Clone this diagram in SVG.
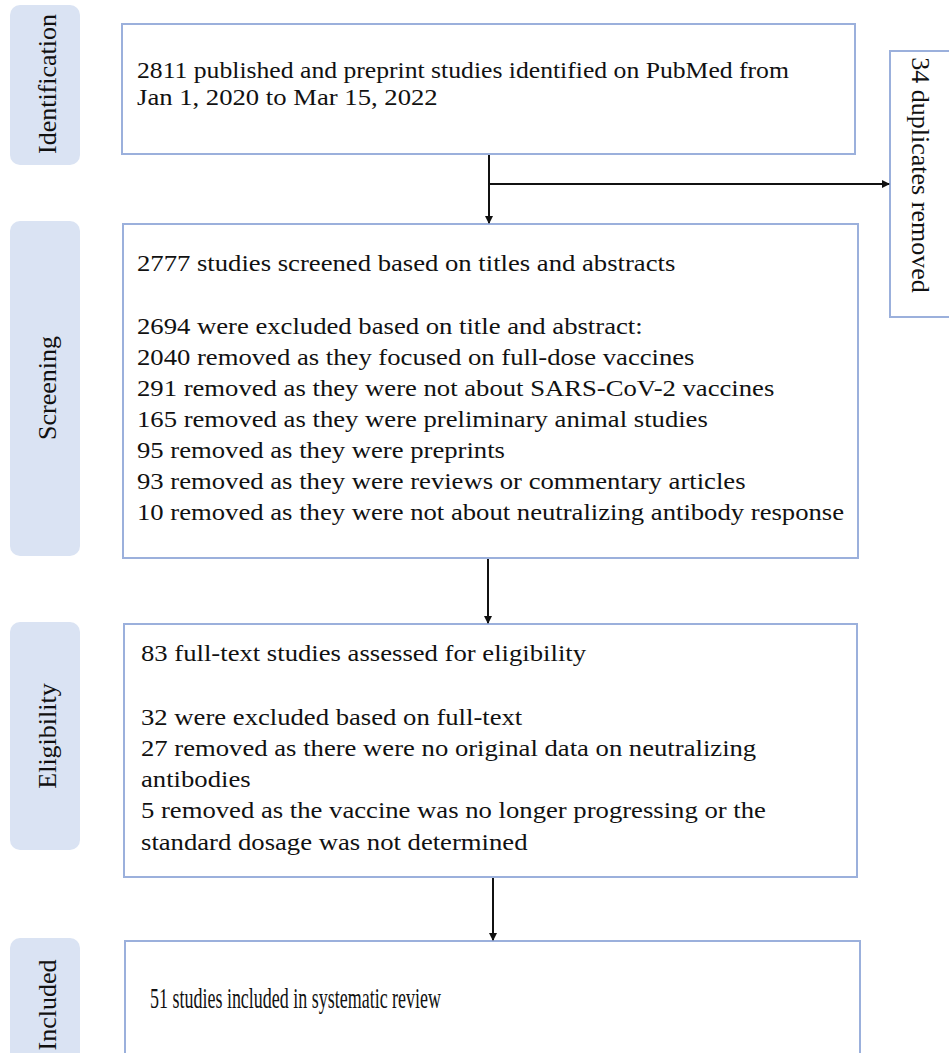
<svg xmlns="http://www.w3.org/2000/svg" width="949" height="1053" viewBox="0 0 949 1053">
<style>
.lab{fill:#dae3f3;}
.box{fill:#ffffff;stroke:#9bb0dc;stroke-width:2;}
.t{font-family:"Liberation Serif","Times New Roman",serif;font-size:23px;fill:#111;}
.l{font-family:"Liberation Serif","Times New Roman",serif;font-size:26px;fill:#111;}
.c{stroke:#111;stroke-width:2;fill:none;}
</style>
<defs>
<marker id="ah" markerWidth="8" markerHeight="8" refX="7" refY="4" orient="auto" markerUnits="userSpaceOnUse">
<path d="M0,0 L8,4 L0,8 Z" fill="#111"/>
</marker>
</defs>
<rect width="949" height="1053" fill="#ffffff"/>
<g id="stage-identification">
<rect class="lab" x="10" y="5" width="70" height="160" rx="10"/>
<text class="l" transform="translate(56,84) rotate(-90)" text-anchor="middle">Identification</text>
</g>
<g id="stage-screening">
<rect class="lab" x="10" y="221" width="70" height="335" rx="10"/>
<text class="l" transform="translate(56,388) rotate(-90)" text-anchor="middle">Screening</text>
</g>
<g id="stage-eligibility">
<rect class="lab" x="10" y="622" width="70" height="228" rx="10"/>
<text class="l" transform="translate(56,736) rotate(-90)" text-anchor="middle">Eligibility</text>
</g>
<g id="stage-included">
<rect class="lab" x="10" y="938" width="70" height="130" rx="10"/>
<text class="l" transform="translate(56,1005) rotate(-90)" text-anchor="middle">Included</text>
</g>
<g id="box-identified">
<rect class="box" x="122" y="24" width="733" height="130"/>
<g transform="translate(137,0) scale(1.16,1)">
<text class="t" x="0" y="78" textLength="562" lengthAdjust="spacingAndGlyphs">2811 published and preprint studies identified on PubMed from</text>
<text class="t" x="0" y="105">Jan 1, 2020 to Mar 15, 2022</text>
</g>
</g>
<g id="box-duplicates">
<rect class="box" x="890" y="51" width="80" height="266"/>
<text class="t" style="font-size:26px" transform="translate(912,175) rotate(90)" text-anchor="middle">34 duplicates removed</text>
</g>
<g id="box-screening">
<rect class="box" x="123" y="224" width="735" height="334"/>
<g transform="translate(137,0) scale(1.16,1)">
<text class="t" x="0" y="271">2777 studies screened based on titles and abstracts</text>
<text class="t" x="0" y="334">2694 were excluded based on title and abstract:</text>
<text class="t" x="0" y="365">2040 removed as they focused on full-dose vaccines</text>
<text class="t" x="0" y="396">291 removed as they were not about SARS-CoV-2 vaccines</text>
<text class="t" x="0" y="427">165 removed as they were preliminary animal studies</text>
<text class="t" x="0" y="458">95 removed as they were preprints</text>
<text class="t" x="0" y="489">93 removed as they were reviews or commentary articles</text>
<text class="t" x="0" y="520">10 removed as they were not about neutralizing antibody response</text>
</g>
</g>
<g id="box-eligibility">
<rect class="box" x="124" y="624" width="733" height="253"/>
<g transform="translate(141,0) scale(1.16,1)">
<text class="t" x="0" y="661">83 full-text studies assessed for eligibility</text>
<text class="t" x="0" y="725">32 were excluded based on full-text</text>
<text class="t" x="0" y="756">27 removed as there were no original data on neutralizing</text>
<text class="t" x="0" y="787">antibodies</text>
<text class="t" x="0" y="818">5 removed as the vaccine was no longer progressing or the</text>
<text class="t" x="0" y="850">standard dosage was not determined</text>
</g>
</g>
<g id="box-included">
<rect class="box" x="125" y="941" width="735" height="130"/>
<text class="t" style="font-size:30px" x="150" y="1008" textLength="291" lengthAdjust="spacingAndGlyphs">51 studies included in systematic review</text>
</g>
<g id="connectors">
<line class="c" x1="489" y1="155" x2="489" y2="223" marker-end="url(#ah)"/>
<line class="c" x1="489" y1="184" x2="889" y2="184" marker-end="url(#ah)"/>
<line class="c" x1="488" y1="559" x2="488" y2="623" marker-end="url(#ah)"/>
<line class="c" x1="493" y1="878" x2="493" y2="940" marker-end="url(#ah)"/>
</g>
</svg>
